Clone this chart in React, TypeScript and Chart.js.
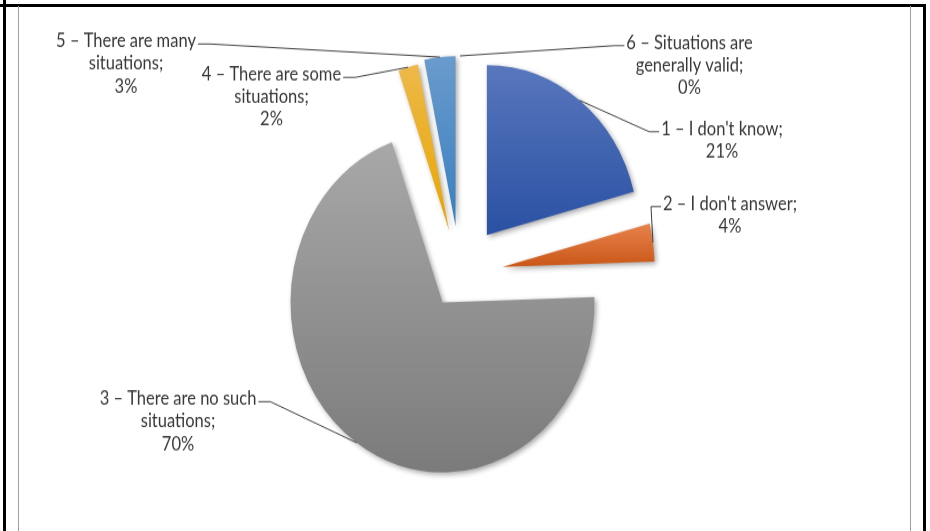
import React, { useEffect, useRef } from "react";
import { Chart, registerables } from "chart.js";

Chart.register(...registerables);

// ---- data ----
const categories = [
  "1 – I don't know",
  "2 – I don't answer",
  "3 – There are no such situations",
  "4 – There are some situations",
  "5 – There are many situations",
  "6 – Situations are generally valid",
];
const shares = [20.9, 3.6, 70.1, 2.1, 3.3, 0];
const labelLines = [
  ["1 – I don't know;"],
  ["2 – I don't answer;"],
  ["3 – There are no such", "situations;"],
  ["4 – There are some", "situations;"],
  ["5 – There are many", "situations;"],
  ["6 – Situations are", "generally valid;"],
];

// ---- styles / layout ----
const topColors = ["#5877bd", "#e8834d", "#a8a8a8", "#edb94a", "#6a9bcc", "#6a9bcc"];
const bottomColors = ["#2b51a3", "#c95717", "#7b7b7b", "#e8a600", "#3a7fc1", "#3a7fc1"];
const explode = [44, 43, 31, 40, 43, 43];
const R = 152;
const W = 930;
const H = 531;
const CH = 475;
const SY = H / CH;
const FONT = "16.5px Lato";
const LINE_H = 20.1;
const labelLayout = [
  { cx: 722, y: 120.8, side: "right" },
  { cx: 730, y: 187.8, side: "right" },
  { cx: 178, y: 362.3, side: "left" },
  { cx: 271.5, y: 72.2, side: "left" },
  { cx: 126, y: 42.3, side: "left" },
  { cx: 689.5, y: 43.8, side: "right" },
];

function sliceExtent(chart: any, i: number) {
  const a = chart.chartArea;
  const cy = (a.top + a.bottom) / 2;
  const total = shares.reduce((s, v) => s + v, 0);
  let start = -Math.PI / 2;
  for (let j = 0; j < i; j++) start += (shares[j] / total) * Math.PI * 2;
  const end = start + (shares[i] / total) * Math.PI * 2;
  const mid = (start + end) / 2;
  const oy = cy + Math.sin(mid) * explode[i];
  const ys = [oy, oy + R * Math.sin(start), oy + R * Math.sin(end)];
  for (let k = -2; k <= 4; k++) {
    const ang = -Math.PI / 2 + k * Math.PI;
    if (ang > start && ang < end) ys.push(oy + R * Math.sin(ang));
  }
  return { minY: Math.min(...ys), maxY: Math.max(...ys) };
}

// explode each slice outward along its bisector
const explodePlugin = {
  id: "explode",
  afterDatasetsUpdate(chart: any) {
    const meta = chart.getDatasetMeta(0);
    meta.data.forEach((el: any, i: number) => {
      const mid = (el.startAngle + el.endAngle) / 2;
      el.x += Math.cos(mid) * explode[i];
      el.y += Math.sin(mid) * explode[i];
    });
  },
};

const shadow = {
  id: "shadow",
  beforeDatasetsDraw(chart: any) {
    const ctx = chart.ctx;
    ctx.save();
    ctx.shadowColor = "rgba(0,0,0,0.35)";
    ctx.shadowBlur = 5;
    ctx.shadowOffsetX = 2;
    ctx.shadowOffsetY = 2;
  },
  afterDatasetsDraw(chart: any) {
    chart.ctx.restore();
  },
};

const labelsPlugin = {
  id: "pieLabels",
  afterDraw(chart: any) {
    const ctx = chart.ctx;
    const meta = chart.getDatasetMeta(0);
    ctx.save();
    ctx.font = FONT;
    ctx.textAlign = "center";
    ctx.textBaseline = "alphabetic";
    meta.data.forEach((el: any, i: number) => {
      const lay = labelLayout[i];
      const lines = [...labelLines[i], `${Math.round(shares[i])}%`];
      const mid = (el.startAngle + el.endAngle) / 2;
      const px = el.x + Math.cos(mid) * el.outerRadius;
      const py = el.y + Math.sin(mid) * el.outerRadius;
      const w = ctx.measureText(lines[0]).width;
      const uy = lay.y - 3;
      const edgeX = lay.side === "right" ? lay.cx - w / 2 - 2 : lay.cx + w / 2 + 2;
      const kneeX = lay.side === "right" ? edgeX - 10 : edgeX + 12;
      ctx.beginPath();
      ctx.moveTo(px, py);
      ctx.lineTo(kneeX, uy);
      ctx.lineTo(edgeX, uy);
      ctx.strokeStyle = "#404040";
      ctx.lineWidth = 1;
      ctx.stroke();
      ctx.fillStyle = "#383838";
      lines.forEach((ln, k) => ctx.fillText(ln, lay.cx, lay.y + k * LINE_H));
    });
    ctx.restore();
  },
};

export default function App() {
  const ref = useRef<HTMLCanvasElement | null>(null);
  useEffect(() => {
    if (!ref.current) return;
    const chart = new Chart(ref.current, {
      type: "pie",
      data: {
        labels: categories,
        datasets: [
          {
            data: shares,
            borderWidth: 0,
            radius: R,
            backgroundColor: (c: any) => {
              const i = c.dataIndex ?? 0;
              const chartObj = c.chart;
              if (!chartObj.chartArea) return topColors[i];
              const { minY, maxY } = sliceExtent(chartObj, i);
              const g = chartObj.ctx.createLinearGradient(0, minY, 0, maxY + 0.01);
              g.addColorStop(0, topColors[i]);
              g.addColorStop(1, bottomColors[i]);
              return g;
            },
          } as any,
        ],
      },
      options: {
        responsive: false,
        animation: false,
        events: [],
        layout: { padding: { left: 0, right: 10, top: 15, bottom: 0 } },
        plugins: { legend: { display: false }, tooltip: { enabled: false } },
      },
      plugins: [explodePlugin, shadow, labelsPlugin],
    });
    return () => chart.destroy();
  }, []);

  const line = (s: React.CSSProperties) => (
    <div style={{ position: "absolute", ...s }} />
  );

  return (
    <div style={{ position: "fixed", left: 0, top: 0, width: W, height: H, background: "#fff", overflow: "hidden" }}>
      <div style={{ position: "absolute", left: 0, top: 0, width: W, height: CH, transform: `scaleY(${SY})`, transformOrigin: "0 0" }}>
        <canvas ref={ref} width={W} height={CH} style={{ display: "block", width: W, height: CH }} />
      </div>
      {line({ left: 3, top: 0, width: 3, height: H, background: "#000" })}
      {line({ left: 0, top: 4, width: 926, height: 3, background: "#000" })}
      {line({ left: 923, top: 4, width: 3, height: H, background: "#000" })}
      {line({ left: 18, top: 6, width: 1, height: H, background: "#a0a0a0" })}
      {line({ left: 910, top: 6, width: 1, height: H, background: "#a0a0a0" })}
    </div>
  );
}
